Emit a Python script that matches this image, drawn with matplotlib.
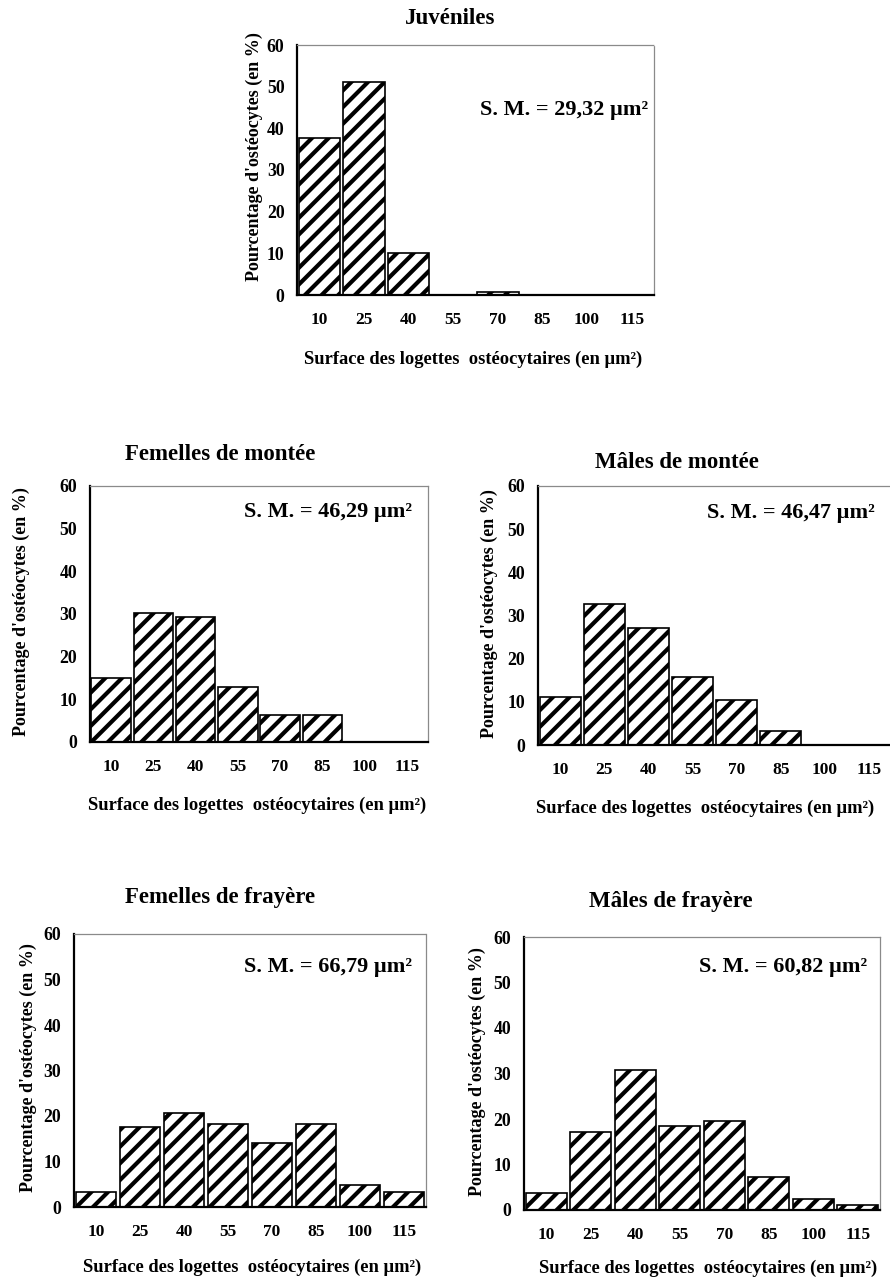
import matplotlib
matplotlib.use("Agg")
import matplotlib.pyplot as plt

# classes de surface (en µm²)
classes = ["10", "25", "40", "55", "70", "85", "100", "115"]

# pourcentages
juveniles = [37.6, 51.0, 10.2, 0.0, 0.8, 0.0, 0.0, 0.0]
femelles_montee = [15.1, 30.2, 29.2, 12.9, 6.4, 6.4, 0.0, 0.0]
males_montee = [11.2, 32.7, 27.0, 15.8, 10.4, 3.3, 0.0, 0.0]
femelles_frayere = [3.3, 17.5, 20.7, 18.2, 14.1, 18.2, 4.9, 3.2]
males_frayere = [3.8, 17.1, 30.7, 18.5, 19.5, 7.3, 2.4, 1.2]

titres = ["Juvéniles", "Femelles de montée", "Mâles de montée",
          "Femelles de frayère", "Mâles de frayère"]
surfaces_moyennes = ["29,32", "46,29", "46,47", "66,79", "60,82"]

plt.rcParams['font.family'] = ['Liberation Serif', 'DejaVu Serif']
plt.rcParams['font.weight'] = 'bold'
plt.rcParams['hatch.linewidth'] = 3.0

W, H = 890, 1281
fig = plt.figure(figsize=(W / 100, H / 100), dpi=100)


def px(x, y):
    return x / W, 1 - y / H


# (gauche, droite, haut, bas) des axes en pixels
panneaux = [
    (297, 654, 45, 295),
    (90, 428, 486, 742),
    (538, 891, 486, 745),
    (74, 426, 934, 1207),
    (524, 880, 937, 1210),
]
pos_titre = [(450, 18), (220, 455), (677, 462), (220, 898), (671, 901)]
pos_xlabel = [(473, 359), (257, 805), (705, 808), (252, 1267), (708, 1268)]
pos_ylabel = [(254, 157), (21, 612), (489, 614), (28, 1068), (477, 1072)]
pos_sm = [(648, 110), (412, 512), (875, 513), (412, 967), (867, 967)]

series = [juveniles, femelles_montee, males_montee, femelles_frayere, males_frayere]

for i, valeurs in enumerate(series):
    l, r, t, b = panneaux[i]
    ax = fig.add_axes([l / W, 1 - b / H, (r - l) / W, (b - t) / H])
    x = list(range(len(classes)))
    ax.bar(x, valeurs, width=0.93, color='white', edgecolor='black',
           linewidth=1.2, hatch='//')
    ax.set_xlim(-0.5, len(classes) - 0.5)
    ax.set_ylim(0, 60)
    ax.set_yticks([0, 10, 20, 30, 40, 50, 60])
    ax.set_xticks(x)
    ax.set_xticklabels(classes)
    ax.tick_params(axis='x', length=0, pad=12.5, labelsize=12.5)
    ax.tick_params(axis='y', length=0, pad=9, labelsize=12.8)
    for lab in ax.get_xticklabels() + ax.get_yticklabels():
        lab.set_fontweight('bold')
    for s in ['top', 'right']:
        ax.spines[s].set_color('#8a8a8a')
        ax.spines[s].set_linewidth(0.9)
        ax.spines[s].set_linestyle((0, (1, 1)))
    for s in ['left', 'bottom']:
        ax.spines[s].set_color('black')
        ax.spines[s].set_linewidth(1.6)

    fig.text(*px(*pos_titre[i]), titres[i], ha='center', va='center',
             fontsize=16.5, fontweight='bold')
    fig.text(*px(*pos_xlabel[i]), "Surface des logettes  ostéocytaires (en µm²)",
             ha='center', va='center', fontsize=13.3, fontweight='bold')
    fig.text(*px(*pos_ylabel[i]), "Pourcentage d'ostéocytes (en %)",
             ha='center', va='center', rotation=90, fontsize=13,
             fontweight='bold')
    fig.text(*px(*pos_sm[i]), "S. M. = " + surfaces_moyennes[i] + " µm²",
             ha='right', va='center', fontsize=16, fontweight='bold')

fig.savefig("out.png", dpi=100)
